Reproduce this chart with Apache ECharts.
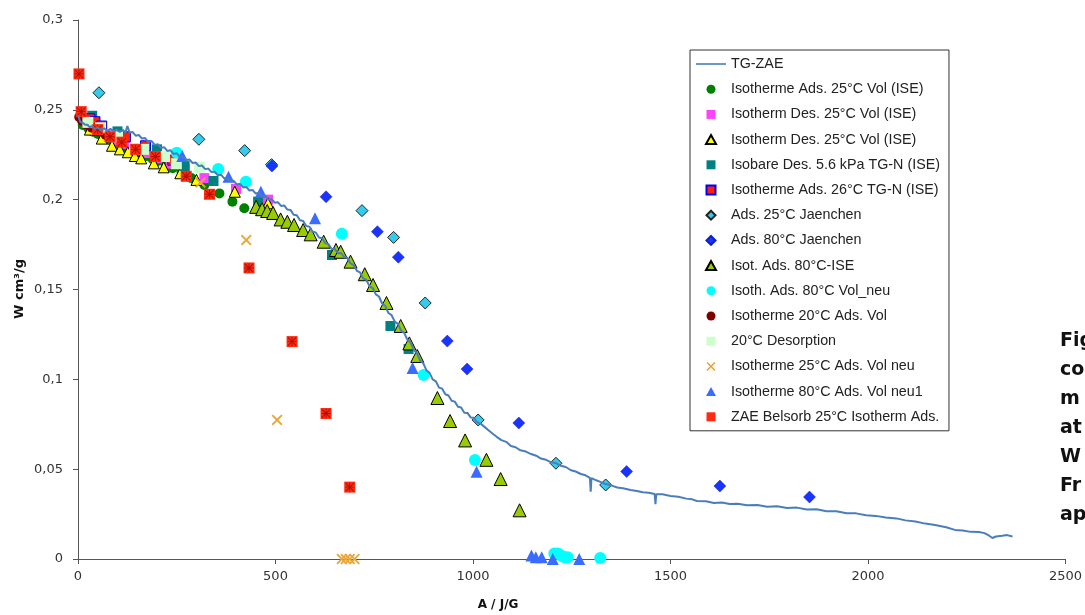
<!DOCTYPE html>
<html><head><meta charset="utf-8">
<script src="https://cdn.jsdelivr.net/npm/echarts@6/dist/echarts.min.js"></script>
<style>html,body{margin:0;padding:0;background:#fff;overflow:hidden}#c{width:1085px;height:615px}</style>
</head><body><div id="c"></div>
<script>
// ---- TG-ZAE measured curve (A in J/g, W in cm3/g) ----
const tgA = [0,6,12,18,24,30,36,42,50,58,66,74,82,90,98,106,114,120,125,131,
138,146,154,162,170,178,186,194,202,210,218,226,234,242,250,258,266,274,282,290,298,306,314,322,330,338,346,354,362,370,378,386,394,402,410,418,426,434,442,450,458,466,474,482,490,498,506,514,522,530,538,546,554,562,570,578,586,594,602,610,618,626,634,642,650,658,666,674,682,690,698,706,714,722,730,738,746,754,762,770,778,786,794,802,810,818,826,834,842,850,858,866,874,882,890,898,906,914,922,930,938,946,954,962,970,978,986,994,1002,1010,
1020,1030,1040,1050,1060,1072,1084,1096,1108,1120,1134,1147,1160,1172,1185,1198,1210,1222,1235,1248,1260,1273,1285,1296,1298,1300,1312,1324,1336,1350,1365,1380,1399,1415,1430,1445,1460,1462,1464,1480,1500,1520,1540,1555,1567,1590,1610,1630,1650,1670,1694,1720,1745,1770,1795,1820,1845,1870,1895,1920,1946,1970,1995,2020,2045,2072,2095,2120,2145,2170,2198,2220,2240,2260,2281,2295,2306,2315,2324,2340,2352,2366];
const tgW = [0.2470,0.2432,0.2428,0.2417,0.2417,0.2402,0.2409,0.2393,0.2402,0.2387,0.2397,0.2383,0.2394,0.2380,0.2390,0.2377,0.2388,0.2374,0.2410,0.2372,
0.2377,0.2356,0.2360,0.2340,0.2343,0.2322,0.2327,0.2305,0.2309,0.2288,0.2292,0.2271,0.2275,0.2254,0.2258,0.2238,0.2241,0.2221,0.2224,0.2204,0.2207,0.2187,0.2190,0.2170,0.2173,0.2153,0.2156,0.2136,0.2139,0.2119,0.2122,0.2102,0.2105,0.2085,0.2088,0.2068,0.2071,0.2051,0.2054,0.2034,0.2038,0.2017,0.2021,0.2000,0.2004,0.1983,0.1986,0.1965,0.1968,0.1945,0.1943,0.1916,0.1913,0.1885,0.1881,0.1853,0.1849,0.1821,0.1817,0.1789,0.1785,0.1757,0.1753,0.1726,0.1726,0.1702,0.1703,0.1680,0.1677,0.1645,0.1636,0.1604,0.1595,0.1562,0.1553,0.1519,0.1508,0.1473,0.1461,0.1422,0.1408,0.1369,0.1357,0.1321,0.1309,0.1271,0.1258,0.1220,0.1205,0.1163,0.1146,0.1105,0.1090,0.1051,0.1036,0.1000,0.0989,0.0954,0.0948,0.0917,0.0910,0.0881,0.0876,0.0847,0.0843,0.0814,0.0813,0.0788,0.0786,0.0762,
0.0752,0.0734,0.0715,0.0697,0.068,0.0662,0.0652,0.0629,0.0622,0.0605,0.0598,0.0584,0.0575,0.0559,0.0552,0.0538,0.0534,0.0519,0.0512,0.0494,0.0487,0.0473,0.0466,0.0452,0.0375,0.045,0.0438,0.0428,0.0417,0.041,0.0398,0.0394,0.0384,0.0379,0.0372,0.0369,0.0362,0.0305,0.0361,0.036,0.0351,0.0347,0.0336,0.0332,0.0323,0.0321,0.0312,0.0314,0.0306,0.0308,0.0299,0.0301,0.0291,0.0293,0.0284,0.0286,0.0276,0.0277,0.0266,0.0266,0.0255,0.0254,0.0244,0.0240,0.0231,0.0226,0.0215,0.0209,0.0197,0.0189,0.0177,0.0162,0.0159,0.0151,0.0150,0.0144,0.0131,0.0117,0.0125,0.0129,0.0133,0.0125,0.0128];

// ---- scatter series ----
const isoAds25A = [12,25,38,50,63,78,93,108,123,139,156,174,189,202,222,240,262,287,320,358,391,421];
const isoAds25W = [0.2416,0.240,0.2378,0.2365,0.2347,0.2332,0.2314,0.2299,0.2286,0.2271,0.2258,0.2243,0.2226,0.2215,0.2193,0.2175,0.2154,0.212,0.2082,0.2035,0.1989,0.1952];

const isoDes25aA = [20,45,70,95,120,145,170,200,235,270,320,400,481];
const isoDes25aW = [0.243,0.239,0.236,0.233,0.231,0.228,0.226,0.223,0.220,0.217,0.212,0.206,0.200];

const isoDes25bA = [30,60,86,106,126,144,160,192,217,259,300,397,481];
const isoDes25bW = [0.239,0.234,0.230,0.228,0.2264,0.2243,0.223,0.2202,0.218,0.2147,0.211,0.2044,0.198];

const isobareA = [36,100,200,270,343,456,643,791,837];
const isobareW = [0.2467,0.238,0.228,0.2187,0.2104,0.1989,0.1692,0.1297,0.1169];

const iso26A = [30,43,60,120,171,240];
const iso26W = [0.245,0.2434,0.241,0.235,0.230,0.222];

const jae25A = [53,306,422,490,719,799,879,1013,1210,1336];
const jae25W = [0.2595,0.2336,0.2273,0.2195,0.1939,0.179,0.1425,0.0774,0.0533,0.0412];

const jae80A = [491,628,758,811,935,985,1116,1389,1625,1852];
const jae80W = [0.2187,0.2016,0.1822,0.168,0.1213,0.1057,0.0757,0.0487,0.0406,0.0345];

const ise80A = [451,466,479,494,513,530,547,570,589,622,653,665,690,726,747,781,817,839,859,910,942,980,1034,1070,1118];
const ise80W = [0.196,0.1947,0.1937,0.1926,0.189,0.1877,0.1859,0.1831,0.1807,0.1766,0.172,0.171,0.1655,0.1585,0.1525,0.1425,0.1297,0.120,0.113,0.0896,0.0768,0.066,0.0552,0.0445,0.0271];

const volNeu80A = [250,355,425,668,875,1005,1206,1215,1223,1232,1240,1322];
const volNeu80W = [0.2261,0.2171,0.210,0.181,0.1024,0.0551,0.003,0.003,0.002,0.001,0.001,0.0005];

const iso20A = [3,10,20,35,50,70];
const iso20W = [0.246,0.244,0.242,0.240,0.238,0.236];

const des20A = [25,57,100,143,166,219,249,307];
const des20W = [0.243,0.240,0.235,0.2285,0.228,0.224,0.220,0.218];

const neu25A = [45,310,426,504,668,678,688,700];
const neu25W = [0.2388,0.2095,0.1775,0.0774,0,0,0,0];

const neu80A = [264,381,463,600,847,1009,1148,1159,1174,1202,1269];
const neu80W = [0.2243,0.2128,0.2044,0.1896,0.1063,0.0486,0.002,0.001,0.001,0.0,0.0];

const zaeA = [2.5,8,50,81,111,146,196,274,333,433,542,628,688];
const zaeW = [0.270,0.249,0.239,0.235,0.232,0.228,0.224,0.213,0.203,0.162,0.121,0.081,0.040];

// ---- axis ticks ----
const yTicks = [0,0.05,0.1,0.15,0.2,0.25,0.3];
const xTicks = [0,500,1000,1500,2000,2500];
const captionLines = ['Fig','co','m','at','W','Fr','ap'];

const names = ['TG-ZAE','Isotherme Ads. 25°C Vol (ISE)','Isotherm Des. 25°C Vol (ISE)','Isotherm Des. 25°C Vol (ISE) ','Isobare Des. 5.6 kPa TG-N (ISE)','Isotherme Ads. 26°C TG-N (ISE)','Ads. 25°C Jaenchen','Ads. 80°C Jaenchen','Isot. Ads. 80°C-ISE','Isoth. Ads. 80°C Vol_neu','Isotherme 20°C Ads. Vol','20°C Desorption','Isotherme 25°C Ads. Vol neu','Isotherme 80°C Ads. Vol neu1','ZAE Belsorb 25°C Isotherm Ads.'];

const pairs = (a, w) => a.map((x, i) => [x, w[i]]);
const XPATH = 'path://M0,1.2L1.2,0L5,3.8L8.8,0L10,1.2L6.2,5L10,8.8L8.8,10L5,6.2L1.2,10L0,8.8L3.8,5Z';
const STAR = 'path://M0,0.8L0.8,0L5,4.2L9.2,0L10,0.8L5.8,5L10,9.2L9.2,10L5,5.8L0.8,10L0,9.2L4.2,5Z M4.5,0L5.5,0L5.5,10L4.5,10Z M0,4.5L10,4.5L10,5.5L0,5.5Z';
const P_RECT = 'path://M0,0L10,0L10,10L0,10Z';
const P_TRI = 'path://M5,0L10,9L0,9Z';
const P_DIA = 'path://M5,0L10,5L5,10L0,5Z';
const P_LINE = 'path://M0,0L30,0L30,1.6L0,1.6Z';
const legendIcons = [P_LINE,'circle',P_RECT,P_TRI,P_RECT,P_RECT,P_DIA,P_DIA,P_TRI,'circle','circle',P_RECT,XPATH,P_TRI,P_RECT];

function sc(name, a, w, symbol, size, color, border, bw, extra) {
  return Object.assign({
    name, type: 'scatter', data: pairs(a, w), symbol, symbolSize: size,
    itemStyle: { color, borderColor: border || color, borderWidth: border ? (bw || 1) : 0, opacity: 1 },
    emphasis: { disabled: true }, animation: false
  }, extra || {});
}

const chart = echarts.init(document.getElementById('c'), null, { renderer: 'canvas' });
const axisFont = { fontFamily: 'DejaVu Sans', fontSize: 13, color: '#333' };
chart.setOption({
  animation: false,
  backgroundColor: '#fff',
  grid: { left: 78, right: 15, top: 20, bottom: 56, containLabel: false },
  xAxis: {
    type: 'value', min: 0, max: 2500, interval: 500,
    axisLine: { show: true, lineStyle: { color: '#555', width: 1 } },
    axisTick: { show: true, length: 5, lineStyle: { color: '#555' } },
    splitLine: { show: false },
    axisLabel: Object.assign({ margin: 11, formatter: v => xTicks.includes(v) ? String(v) : '' }, axisFont)
  },
  yAxis: {
    type: 'value', min: 0, max: 0.3, interval: 0.05,
    axisLine: { show: true, lineStyle: { color: '#555', width: 1 } },
    axisTick: { show: true, length: 5, lineStyle: { color: '#555' } },
    splitLine: { show: false },
    axisLabel: Object.assign({ margin: 15, formatter: v => {
      const t = yTicks.find(k => Math.abs(k - v) < 1e-9);
      return t === undefined ? '' : String(+t.toFixed(2)).replace('.', ',');
    } }, axisFont)
  },
  legend: {
    orient: 'vertical', left: 690, top: 50,
    padding: [7, 9, 7, 6],
    itemWidth: 30, itemHeight: 9, itemGap: 11.2,
    symbolKeepAspect: true,
    backgroundColor: '#fff', borderColor: '#333', borderWidth: 1,
    textStyle: { fontFamily: 'Liberation Sans', fontSize: 14.3, color: '#222', lineHeight: 14 },
    data: names.map((n, i) => ({ name: n, icon: legendIcons[i] })), selectedMode: false
  },
  graphic: [
    { type: 'text', x: 20, y: 289, rotation: Math.PI / 2,
      style: { text: 'W cm³/g', font: 'bold 13px DejaVu Sans', fill: '#111', textAlign: 'center', textVerticalAlign: 'middle' } },
    { type: 'text', x: 498, y: 605,
      style: { text: 'A / J/G', font: 'bold 12px DejaVu Sans', fill: '#111', textAlign: 'center', textVerticalAlign: 'middle' } }
  ].concat(captionLines.map((t, i) => ({
    type: 'text', x: 1060, y: 341 + i * 29,
    style: { text: t, font: 'bold 19px DejaVu Sans', fill: '#111', textVerticalAlign: 'middle' }
  }))),
  series: [
    { name: names[0], type: 'line', data: pairs(tgA, tgW), symbol: 'none', showSymbol: false,
      lineStyle: { color: '#4a7ebb', width: 2 }, itemStyle: { color: '#4a7ebb' }, emphasis: { disabled: true }, animation: false },
    sc(names[1], isoAds25A, isoAds25W, 'circle', 10, '#008000'),
    sc(names[2], isoDes25aA, isoDes25aW, 'rect', 10, '#ff40ff'),
    sc(names[3], isoDes25bA, isoDes25bW, 'triangle', 11, '#ffff00', '#000', 1),
    sc(names[4], isobareA, isobareW, 'rect', 10, '#008080'),
    sc(names[5], iso26A, iso26W, 'rect', 10, '#ff2000', '#0000ff', 1),
    sc(names[6], jae25A, jae25W, 'diamond', 12, '#33ccee', '#222', 1),
    sc(names[7], jae80A, jae80W, 'diamond', 12, '#1a33ff', '#1020c0', 0.5),
    sc(names[8], ise80A, ise80W, 'triangle', 13, '#99cc00', '#000', 1),
    sc(names[9], volNeu80A, volNeu80W, 'circle', 12, '#00ffff'),
    sc(names[10], iso20A, iso20W, 'circle', 10, '#800000'),
    sc(names[11], des20A, des20W, 'rect', 11, '#ccffcc'),
    sc(names[12], neu25A, neu25W, XPATH, 11, '#e8a838'),
    sc(names[13], neu80A, neu80W, 'triangle', 12, '#3a6cff'),
    sc(names[14], zaeA, zaeW, 'rect', 11, '#ff2a10'),
    { name: names[14], type: 'scatter', data: pairs(zaeA, zaeW), symbol: STAR, symbolSize: 9,
      itemStyle: { color: '#9a0a00' }, emphasis: { disabled: true }, animation: false, legendHoverLink: false }
  ]
});
</script>
</body></html>
